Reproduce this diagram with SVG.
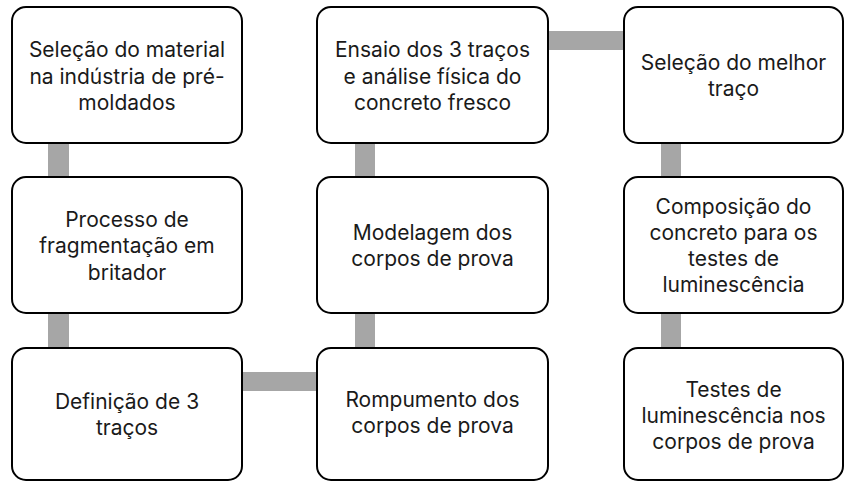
<svg xmlns="http://www.w3.org/2000/svg" width="845" height="481" viewBox="0 0 845 481">
<style>
.box{fill:#fff;stroke:#000;stroke-width:2}
.bar{fill:#a6a6a6}
text{font-family:Inter,"Open Sans",sans-serif;font-size:21px;fill:#1a1a1a;text-anchor:middle}
</style>
<rect width="845" height="481" fill="#fff"/>
<g id="connectors">
<rect class="bar" x="48" y="142" width="21" height="36"/>
<rect class="bar" x="48" y="312" width="21" height="37"/>
<rect class="bar" x="241" y="372" width="77" height="19"/>
<rect class="bar" x="355" y="312" width="20" height="37"/>
<rect class="bar" x="355" y="142" width="20" height="36"/>
<rect class="bar" x="547" y="31" width="78" height="19"/>
<rect class="bar" x="661" y="142" width="20" height="36"/>
<rect class="bar" x="661" y="312" width="20" height="37"/>
</g>
<g id="n1">
<rect class="box" x="12" y="7" width="230" height="136" rx="14"/>
<text x="127" y="57">Seleção do material</text>
<text x="127" y="83.5">na indústria de pré-</text>
<text x="127" y="110">moldados</text>
</g>
<g id="n2">
<rect class="box" x="12" y="177" width="230" height="136" rx="14"/>
<text x="127" y="226.5">Processo de</text>
<text x="127" y="253">fragmentação em</text>
<text x="127" y="279.5">britador</text>
</g>
<g id="n3">
<rect class="box" x="12" y="348" width="230" height="132" rx="14"/>
<text x="127" y="409">Definição de 3</text>
<text x="127" y="435">traços</text>
</g>
<g id="n4">
<rect class="box" x="317" y="348" width="231" height="132" rx="14"/>
<text x="432.5" y="407">Rompumento dos</text>
<text x="432.5" y="433">corpos de prova</text>
</g>
<g id="n5">
<rect class="box" x="317" y="177" width="231" height="136" rx="14"/>
<text x="432.5" y="240">Modelagem dos</text>
<text x="432.5" y="266">corpos de prova</text>
</g>
<g id="n6">
<rect class="box" x="317" y="7" width="231" height="136" rx="14"/>
<text x="432.5" y="57">Ensaio dos 3 traços</text>
<text x="432.5" y="83.5">e análise física do</text>
<text x="432.5" y="110">concreto fresco</text>
</g>
<g id="n7">
<rect class="box" x="624" y="7" width="219" height="136" rx="14"/>
<text x="733.5" y="70">Seleção do melhor</text>
<text x="733.5" y="96">traço</text>
</g>
<g id="n8">
<rect class="box" x="624" y="177" width="219" height="136" rx="14"/>
<text x="733.5" y="213.5">Composição do</text>
<text x="733.5" y="240">concreto para os</text>
<text x="733.5" y="266">testes de</text>
<text x="733.5" y="292">luminescência</text>
</g>
<g id="n9">
<rect class="box" x="624" y="348" width="219" height="132" rx="14"/>
<text x="733.5" y="397">Testes de</text>
<text x="733.5" y="423">luminescência nos</text>
<text x="733.5" y="449">corpos de prova</text>
</g>
</svg>
